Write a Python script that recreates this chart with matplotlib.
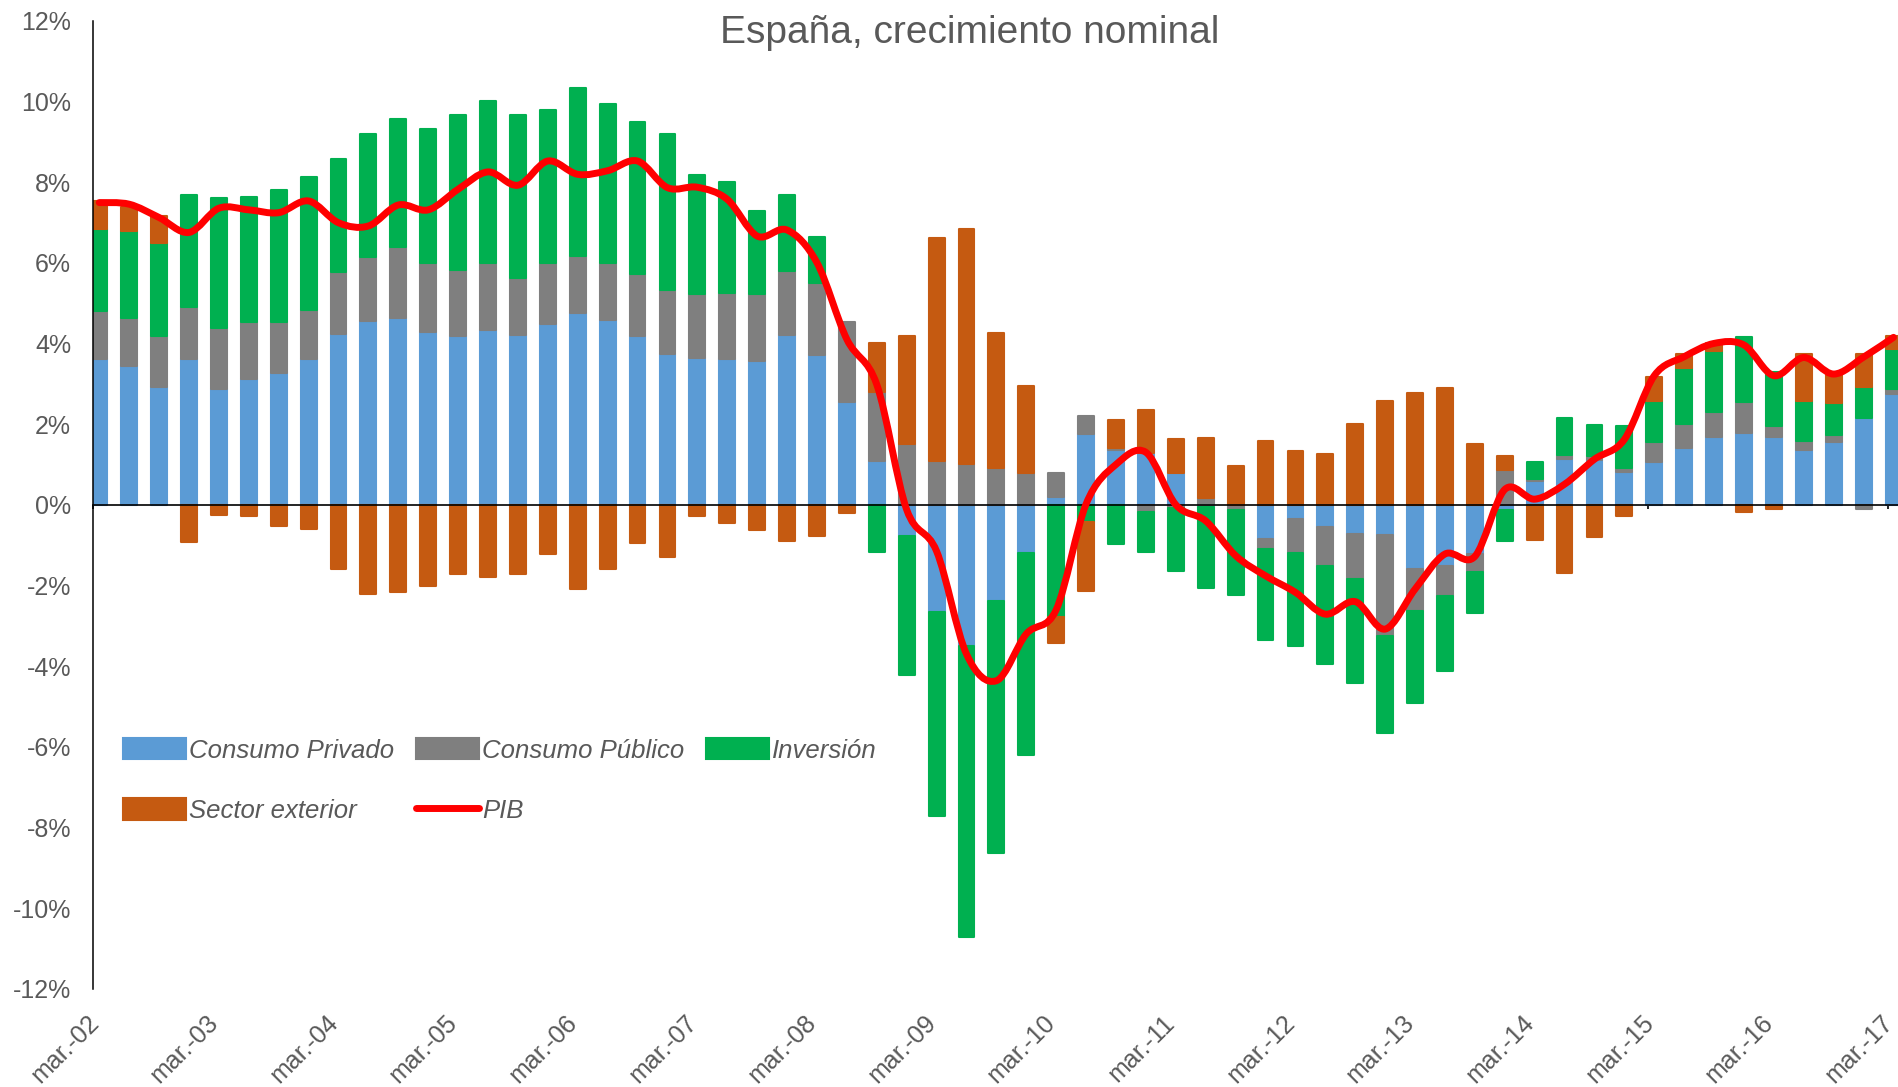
import matplotlib.pyplot as plt
from matplotlib.path import Path
from matplotlib.patches import PathPatch, Patch
from matplotlib.lines import Line2D
import matplotlib.transforms as mtransforms
import numpy as np

plt.rcParams['font.family'] = ['Liberation Sans', 'DejaVu Sans']

years = ['02', '03', '04', '05', '06', '07', '08', '09', '10', '11', '12', '13', '14', '15', '16', '17']
tick_labels = ['mar.-' + y for y in years]

# contribuciones trimestrales (puntos porcentuales), mar-02 .. mar-17
consumo_privado = [3.61, 3.43, 2.93, 3.62, 2.88, 3.13, 3.26, 3.62, 4.23, 4.56, 4.62, 4.29, 4.19, 4.33, 4.20, 4.47,
                   4.76, 4.58, 4.19, 3.73, 3.65, 3.61, 3.57, 4.20, 3.71, 2.55, 1.08, -0.78, -2.65, -3.49, -2.39, -1.20,
                   0.20, 1.75, 1.35, 1.29, 0.79, -0.05, -0.05, -0.85, -0.36, -0.56, -0.73, -0.75, -1.60, -1.51, -1.21, -0.12,
                   0.60, 1.13, 1.12, 0.82, 1.07, 1.40, 1.69, 1.79, 1.67, 1.36, 1.55, 2.14, 2.74]
consumo_publico = [1.20, 1.19, 1.26, 1.28, 1.51, 1.39, 1.27, 1.22, 1.55, 1.57, 1.76, 1.71, 1.63, 1.67, 1.43, 1.53,
                   1.40, 1.42, 1.53, 1.60, 1.58, 1.65, 1.65, 1.60, 1.79, 1.97, 1.72, 1.51, 1.08, 1.02, 0.90, 0.78,
                   0.60, 0.45, 0.05, -0.18, -0.08, 0.16, -0.08, -0.25, -0.83, -0.95, -1.10, -2.50, -1.03, -0.74, -0.45, 0.87,
                   0.05, 0.10, 0.10, 0.08, 0.48, 0.60, 0.60, 0.77, 0.29, 0.21, 0.19, -0.11, 0.12]
inversion = [2.02, 2.17, 2.31, 2.78, 3.22, 3.10, 3.26, 3.29, 2.80, 3.06, 3.18, 3.32, 3.83, 4.00, 4.04, 3.79,
             4.18, 3.93, 3.76, 3.85, 2.95, 2.75, 2.07, 1.88, 1.13, 0.0, -1.17, -3.43, -5.06, -7.23, -6.23, -5.00,
             -2.77, -0.42, -0.96, -1.00, -1.55, -2.00, -2.10, -2.26, -2.31, -2.44, -2.58, -2.40, -2.27, -1.88, -1.01, -0.77,
             0.41, 0.91, 0.76, 1.06, 1.03, 1.40, 1.53, 1.60, 1.32, 1.01, 0.79, 0.77, 0.99]
sector_exterior = [0.69, 0.58, 0.66, -0.92, -0.26, -0.28, -0.52, -0.59, -1.58, -2.22, -2.16, -2.00, -1.72, -1.79, -1.72, -1.23,
                   -2.09, -1.60, -0.94, -1.29, -0.27, -0.46, -0.63, -0.90, -0.77, -0.20, 1.20, 2.67, 5.52, 5.82, 3.37, 2.17,
                   -0.66, -1.72, 0.70, 1.05, 0.84, 1.49, 0.97, 1.59, 1.34, 1.26, 2.00, 2.58, 2.77, 2.89, 1.51, 0.33,
                   -0.86, -1.69, -0.81, -0.28, 0.58, 0.33, 0.20, -0.19, -0.11, 1.16, 0.68, 0.83, 0.33]
pib = [7.49, 7.45, 7.12, 6.75, 7.35, 7.31, 7.24, 7.53, 6.99, 6.91, 7.43, 7.31, 7.82, 8.25, 7.92, 8.52,
       8.19, 8.28, 8.52, 7.86, 7.87, 7.57, 6.66, 6.81, 6.00, 4.10, 2.98, -0.12, -1.15, -3.70, -4.36, -3.20,
       -2.60, 0.02, 1.00, 1.30, 0.00, -0.40, -1.26, -1.76, -2.17, -2.71, -2.40, -3.08, -2.09, -1.22, -1.28, 0.38,
       0.14, 0.51, 1.13, 1.62, 3.20, 3.67, 4.00, 3.96, 3.20, 3.65, 3.24, 3.66, 4.15]

series = [
    ('Consumo Privado', consumo_privado, '#5B9BD5'),
    ('Consumo Público', consumo_publico, '#7F7F7F'),
    ('Inversión', inversion, '#00B050'),
    ('Sector exterior', sector_exterior, '#C55A11'),
]
text_color = '#595959'


def smooth_path(xs, ys):
    # curva suavizada tipo Excel (Bezier tipo Catmull-Rom)
    pts = np.column_stack([xs, ys])
    verts = [pts[0]]
    codes = [Path.MOVETO]
    for i in range(len(pts) - 1):
        p0 = pts[max(i - 1, 0)]
        p1 = pts[i]
        p2 = pts[i + 1]
        p3 = pts[min(i + 2, len(pts) - 1)]
        verts += [p1 + (p2 - p0) / 6, p2 - (p3 - p1) / 6, p2]
        codes += [Path.CURVE4] * 3
    return Path(verts, codes)


fig = plt.figure(figsize=(18.98, 10.87), dpi=100)
ax = fig.add_axes([93.3 / 1898, 98 / 1087, 1 - 93.3 / 1898, 968.4 / 1087])

x = np.arange(len(pib))
pos_base = np.zeros(len(x))
neg_base = np.zeros(len(x))
for label, vals, color in series:
    vals = np.array(vals)
    base = np.where(vals >= 0, pos_base, neg_base)
    lw = np.where(vals != 0, 1.5, 0)
    ax.bar(x, vals, 0.53, bottom=base, color=color, edgecolor=color, linewidth=lw,
           joinstyle='round', zorder=2)
    pos_base += np.clip(vals, 0, None)
    neg_base += np.clip(vals, None, 0)

ax.add_patch(PathPatch(smooth_path(x, pib), fill=False, edgecolor='#FF0000', lw=5,
                       capstyle='round', joinstyle='round', zorder=4))

tick_pos = np.arange(len(years)) * 4 - 0.2
ax.set_xlim(-0.2, 60.15)
ax.set_ylim(-12, 12)
ax.set_yticks(np.arange(-12, 13, 2))
ax.set_yticklabels([f'{v}%' for v in range(-12, 13, 2)])
ax.tick_params(axis='y', length=0, pad=16, labelsize=18, labelcolor=text_color)
ax.set_xticks(tick_pos)
ax.tick_params(axis='x', length=3, width=1.2, direction='out', labelbottom=False)
for side in ['top', 'right']:
    ax.spines[side].set_visible(False)
ax.spines['left'].set_linewidth(1.1)
ax.spines['bottom'].set_position(('data', 0))
ax.spines['bottom'].set_linewidth(1.2)

label_offset = mtransforms.ScaledTranslation(0.10, -0.22, fig.dpi_scale_trans)
for pos, lab in zip(tick_pos, tick_labels):
    ax.text(pos, 0, lab, transform=ax.get_xaxis_transform() + label_offset, rotation=45,
            ha='right', va='top', fontsize=18, color=text_color)

handles = [
    Patch(facecolor='#5B9BD5', edgecolor='#5B9BD5', lw=1.5, joinstyle='round'),
    Patch(facecolor='#C55A11', edgecolor='#C55A11', lw=1.5, joinstyle='round'),
    Patch(facecolor='#7F7F7F', edgecolor='#7F7F7F', lw=1.5, joinstyle='round'),
    Line2D([], [], color='#FF0000', lw=5, solid_capstyle='round'),
    Patch(facecolor='#00B050', edgecolor='#00B050', lw=1.5, joinstyle='round'),
]
labels = ['Consumo Privado', 'Sector exterior', 'Consumo Público', 'PIB', 'Inversión']
leg = ax.legend(handles, labels, ncol=3, loc='upper left', bbox_to_anchor=(123 / 1898, 1 - 738 / 1087),
                bbox_transform=fig.transFigure, frameon=False, prop={'style': 'italic', 'size': 18.5},
                handlelength=2.45, handleheight=0.9, handletextpad=0.12, columnspacing=0.85,
                labelspacing=1.4, borderpad=0, borderaxespad=0)
for t in leg.get_texts():
    t.set_color(text_color)

fig.text(970 / 1898, 1 - 43 / 1087, 'España, crecimiento nominal', ha='center', va='baseline',
         fontsize=28, color=text_color)

fig.savefig('out.png', dpi=100)
